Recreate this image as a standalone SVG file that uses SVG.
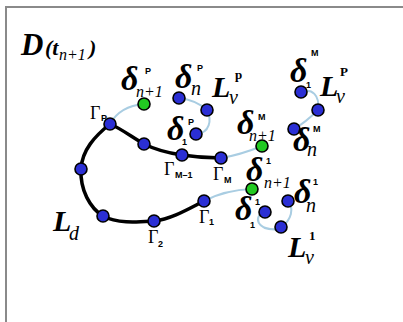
<svg xmlns="http://www.w3.org/2000/svg" width="403" height="322" viewBox="0 0 403 322">
<style>
.frame{stroke:#8a8a8a;stroke-width:2;fill:none}
.main{stroke:#000;stroke-width:3.5;fill:none;stroke-linecap:round;stroke-linejoin:round}
.thin{stroke:#a9cde2;stroke-width:2;fill:none}
.b{fill:#2b2fd4;stroke:#000;stroke-width:1.6}
.g{fill:#22c922;stroke:#000;stroke-width:1.6}
.big{font-family:"Liberation Serif",serif;font-style:italic;font-weight:bold;fill:#000}
.dl{font-family:"Liberation Serif",serif;font-style:italic;font-weight:bold;font-size:34px;fill:#000}
.sub{font-family:"Liberation Serif",serif;font-style:italic;font-size:16px;fill:#000}
.sn{font-family:"Liberation Serif",serif;font-style:italic;font-size:20px;fill:#000}
.sup{font-family:"Liberation Sans",sans-serif;font-weight:bold;font-size:9px;fill:#000}
.gam{font-family:"Liberation Serif",serif;font-size:18px;fill:#000}
.gs{font-family:"Liberation Sans",sans-serif;font-weight:bold;font-size:9px;fill:#000}
.ls{font-family:"Liberation Serif",serif;font-weight:bold;font-size:13px;fill:#000}
</style>
<rect width="403" height="322" fill="#fff"/>
<path class="frame" d="M6,322 V7 H403"/>
<g id="title">
<text class="big" x="21" y="55" font-size="31">D</text>
<text class="big" x="45" y="55" font-size="22">(t</text>
<text class="sub" x="59" y="60" font-size="18">n+1</text>
<text class="big" x="89" y="55" font-size="22">)</text>
</g>
<g id="connectors">
<path class="main" d="M221,158 C205,158 195,157 182,155 C168,153 156,150 144,144 C132,137 120,128 110,124 C95,136 82,150 81,169 C80,190 90,208 103,216 C118,224 138,222 154,221 C172,219 190,208 204,201"/>
<path class="thin" d="M110,124 Q120,106 144,104"/>
<path class="thin" d="M221,158 Q240,155 262,146"/>
<path class="thin" d="M204,201 Q225,190 252,189"/>
<path class="thin" d="M179,98 Q196,100 207,110 C212,120 210,133 196,134"/>
<path class="thin" d="M301,92 C312,88 320,95 318,110 Q306,122 294,129"/>
<path class="thin" d="M265,212 C253,215 255,232 281,229"/>
<path class="thin" d="M288,201 C294,208 292,220 281,227"/>
</g>
<g id="gammaP"><circle class="b" cx="110" cy="124" r="6"/><text class="gam" x="90" y="119">Γ</text><text class="gs" x="101" y="121">P</text></g>
<g id="n2"><circle class="b" cx="144" cy="144" r="6"/></g>
<g id="gammaM1"><circle class="b" cx="182" cy="155" r="6"/><text class="gam" x="164" y="175">Γ</text><text class="gs" x="175" y="178">M–1</text></g>
<g id="gammaM"><circle class="b" cx="221" cy="158" r="6"/><text class="gam" x="213" y="180">Γ</text><text class="gs" x="224" y="183">M</text></g>
<g id="nleft"><circle class="b" cx="81" cy="169" r="6"/></g>
<g id="nlow"><circle class="b" cx="103" cy="216" r="6"/></g>
<g id="gamma2"><circle class="b" cx="154" cy="221" r="6"/><text class="gam" x="148" y="243">Γ</text><text class="gs" x="158" y="247">2</text></g>
<g id="gamma1"><circle class="b" cx="204" cy="201" r="6"/><text class="gam" x="199" y="223">Γ</text><text class="gs" x="209" y="225">1</text></g>
<g id="Ld"><text class="big" x="53" y="231" font-size="30">L</text><text class="sn" x="69" y="240">d</text></g>
<g id="dPn1"><circle class="g" cx="144" cy="104" r="6"/><text class="dl" x="121" y="90">δ</text><text class="sup" x="145" y="74">P</text><text class="sub" x="136" y="97">n+1</text></g>
<g id="dPn"><circle class="b" cx="179" cy="98" r="6"/><text class="dl" x="175" y="88">δ</text><text class="sup" x="197" y="71">P</text><text class="sn" x="191" y="95">n</text></g>
<g id="nP"><circle class="b" cx="207" cy="110" r="6"/><text class="big" x="212" y="97" font-size="30">L</text><text class="ls" x="235" y="79">p</text><text class="sn" x="229" y="104">v</text></g>
<g id="dP1"><circle class="b" cx="196" cy="134" r="6"/><text class="dl" x="167" y="140">δ</text><text class="sup" x="188" y="125">P</text><text class="sup" x="182" y="145">1</text></g>
<g id="dMn1"><circle class="g" cx="262" cy="146" r="6"/><text class="dl" x="237" y="134">δ</text><text class="sup" x="258" y="120">M</text><text class="sub" x="249" y="141">n+1</text></g>
<g id="dM1"><circle class="b" cx="301" cy="92" r="6"/><text class="dl" x="290" y="82">δ</text><text class="sup" x="311" y="56">M</text><text class="sup" x="306" y="88">1</text></g>
<g id="nM"><circle class="b" cx="318" cy="110" r="6"/><text class="big" x="320" y="96" font-size="30">L</text><text class="ls" x="340" y="76">P</text><text class="sn" x="336" y="103">v</text></g>
<g id="dMn"><circle class="b" cx="294" cy="129" r="6"/><text class="dl" x="293" y="151">δ</text><text class="sup" x="313" y="132">M</text><text class="sn" x="307" y="156">n</text></g>
<g id="d1n1"><circle class="g" cx="252" cy="189" r="6"/><text class="dl" x="246" y="181">δ</text><text class="sup" x="266" y="164">1</text><text class="sub" x="264" y="188">n+1</text></g>
<g id="d1n"><circle class="b" cx="288" cy="201" r="6"/><text class="dl" x="294" y="203">δ</text><text class="sup" x="313" y="185">1</text><text class="sn" x="306" y="212">n</text></g>
<g id="d11"><circle class="b" cx="265" cy="212" r="6"/><text class="dl" x="235" y="220">δ</text><text class="sup" x="255" y="205">1</text><text class="sup" x="250" y="228">1</text></g>
<g id="n1"><circle class="b" cx="281" cy="227" r="6"/><text class="big" x="288" y="257" font-size="30">L</text><text class="ls" x="309" y="240">1</text><text class="sn" x="305" y="264">v</text></g>
</svg>
